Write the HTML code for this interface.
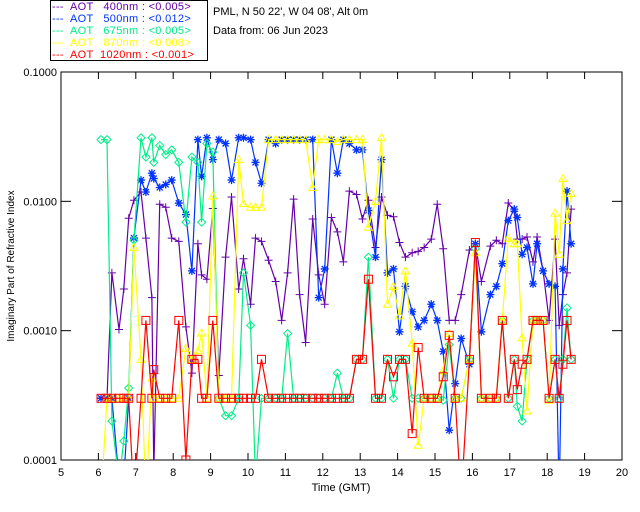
<!DOCTYPE html>
<html><head><meta charset="utf-8"><style>
html,body{margin:0;padding:0;background:#fff;width:640px;height:512px;overflow:hidden}
svg{display:block;font-family:"Liberation Sans",sans-serif}
.leg text{white-space:pre}
</style></head><body>
<svg id="chart" width="640" height="512" viewBox="0 0 640 512">
<defs><clipPath id="pc"><rect x="61" y="72" width="561" height="388"/></clipPath></defs>
<g class="leg">
<rect x="50.5" y="0.5" width="157" height="60" fill="#fff" stroke="#000"/>
<g font-size="11" letter-spacing="0.3">
<text x="52" y="10" fill="#6600aa" xml:space="preserve">---  AOT   400nm : &lt;0.005&gt;</text>
<text x="52" y="22" fill="#0033ff" xml:space="preserve">---  AOT   500nm : &lt;0.012&gt;</text>
<text x="52" y="34" fill="#00ee88" xml:space="preserve">---  AOT   675nm : &lt;0.005&gt;</text>
<text x="52" y="46" fill="#ffff00" xml:space="preserve">---  AOT   870nm : &lt;0.008&gt;</text>
<text x="52" y="58" fill="#ff0000" xml:space="preserve">---  AOT  1020nm : &lt;0.001&gt;</text>
</g></g>
<text x="213" y="15" font-size="11">PML, N 50 22', W 04 08', Alt 0m</text>
<text x="213" y="34" font-size="11">Data from: 06 Jun 2023</text>
<rect x="61" y="72" width="561" height="388" fill="none" stroke="#000"/>
<g id="axes"></g>
<g id="series" clip-path="url(#pc)"></g>
<text x="341" y="491" font-size="11" text-anchor="middle">Time (GMT)</text>
<text transform="translate(14,266) rotate(-90)" font-size="10" text-anchor="middle">Imaginary Part of Refractive Index</text>
</svg>
<script>
const times=[6.07,6.23,6.36,6.55,6.68,6.81,6.95,7.14,7.27,7.43,7.48,7.64,7.80,7.96,8.15,8.34,8.50,8.66,8.76,8.90,9.06,9.22,9.40,9.56,9.75,9.88,10.07,10.20,10.36,10.55,10.74,10.90,11.06,11.22,11.38,11.54,11.73,11.89,12.05,12.23,12.39,12.55,12.71,12.90,13.06,13.22,13.41,13.57,13.73,13.89,14.05,14.21,14.39,14.55,14.71,14.90,15.06,15.22,15.38,15.54,15.70,15.92,16.08,16.24,16.48,16.64,16.80,16.96,17.12,17.20,17.33,17.46,17.62,17.73,17.89,18.05,18.21,18.32,18.42,18.53,18.64];
const aot400=[.0003,.0003,.0028,.00102,.0021,.0074,.0102,.0118,.0052,.0018,.00008,.0095,.009,.0052,.0049,.00107,.00047,.0047,.0027,.0025,.0088,.00045,.0037,.0108,.0021,.0036,.0016,.0052,.0049,.0035,.0024,.0012,.0028,.0104,.0019,.00081,.0073,.0027,.0016,.0075,.0058,.0034,.012,.0113,.0073,.0102,.0044,.0108,.0078,.0076,.0048,.0037,.004,.0041,.0044,.0051,.0095,.0043,.0012,.0012,.0019,.0042,.0047,.0024,.0045,.005,.0047,.0097,.0084,.0051,.0051,.0053,.0034,.0053,.0029,.0012,.0051,.0011,.0019,.0028,.0087];
const aot500=[.0003,.0003,.0003,.00007,.00007,.0003,.0052,.0146,.0118,.0165,.015,.0128,.0135,.0146,.0097,.0079,.0029,.03,.0156,.031,.021,.03,.028,.0146,.031,.031,.03,.02,.0138,.03,.028,.03,.03,.03,.03,.03,.03,.0018,.003,.03,.0165,.03,.028,.025,.025,.0085,.0037,.021,.0028,.003,.00098,.0022,.0014,.00107,.0012,.0016,.0012,.00069,.00017,.00039,.00087,.00055,.0047,.00098,.0019,.0022,.0033,.0071,.0087,.0075,.0039,.0044,.0023,.0047,.0029,.0023,.0022,.00005,.003,.012,.0047];
const aot675=[.03,.03,.0002,.00007,.00014,.00036,.005,.031,.022,.031,.02,.027,.023,.025,.02,.0069,.022,.02,.0069,.028,.024,.0003,.00022,.00022,.0003,.0028,.0011,.00007,.0003,.0003,.0003,.0003,.00095,.0003,.0003,.0003,.0003,.0003,.0003,.0003,.00047,.0003,.0003,.0006,.0006,.0037,.0003,.0003,.0006,.0003,.0006,.0006,.0003,.0003,.0003,.0003,.0003,.00029,.00078,.0003,.0003,.0006,.0043,.0003,.0003,.0003,.0012,.0003,.0006,.00026,.0002,.0006,.0012,.0012,.0012,.0003,.0006,.0003,.0006,.0015,.0006];
const aot870=[.00005,.0003,.0003,.0003,.0003,.0003,.0044,.0006,.00005,.00043,.0003,.0003,.0003,.0003,.0003,.00073,.0006,.0007,.00096,.0003,.011,.0003,.0003,.0003,.021,.0096,.009,.009,.009,.03,.03,.03,.03,.03,.03,.03,.0128,.03,.03,.03,.029,.03,.03,.03,.03,.0063,.01,.031,.0016,.0022,.0013,.0029,.0008,.00013,.0003,.0003,.0003,.00049,.00095,.0003,.0003,.0006,.004,.0003,.0003,.0003,.0012,.0052,.0047,.0047,.00088,.00024,.0012,.0012,.0012,.00029,.0081,.0039,.015,.0071,.0115];
const aot1020=[.0003,.0003,.0003,.0003,.0003,.0003,.00005,.0003,.0012,.0003,.0005,.0003,.0003,.0003,.0012,.0001,.0006,.0006,.0003,.0003,.0012,.0003,.0003,.0003,.0003,.0003,.0003,.0003,.0006,.0003,.0003,.0003,.0003,.0003,.0003,.0003,.0003,.0003,.0003,.0003,.0003,.0003,.0003,.0006,.0006,.0025,.0003,.0003,.0006,.00044,.0006,.0006,.00016,.00074,.0003,.0003,.0003,.00044,.00092,.0003,.00005,.0006,.0048,.0003,.0003,.0003,.0012,.0003,.0006,.00035,.00055,.0006,.0012,.0012,.0012,.0003,.0006,.0003,.00055,.0012,.0006];
const xTicks=[5,6,7,8,9,10,11,12,13,14,15,16,17,18,19,20];
const yTicks=[0.1,0.01,0.001,0.0001];
const yTickLabels=["0.1000","0.0100","0.0010","0.0001"];

const NS="http://www.w3.org/2000/svg";
const X0=61,X1=622,Y0=72,Y1=460;
function xs(t){return X0+(t-5)/15*(X1-X0);}
function ys(v){return Y0+(-1-Math.log10(v))/3*(Y1-Y0);}
function mk(tag,attrs,parent){const e=document.createElementNS(NS,tag);for(const k in attrs)e.setAttribute(k,attrs[k]);parent.appendChild(e);return e;}
const axes=document.getElementById('axes');
xTicks.forEach(t=>{
  const x=xs(t);
  let l=mk('line',{x1:x,x2:x,y1:Y1,y2:Y1-7,stroke:'#000'},axes);
  
  
  let l2=mk('line',{x1:x,x2:x,y1:Y0,y2:Y0+7,stroke:'#000'},axes);
  
  
  const tx=mk('text',{x:x,y:Y1+16,'font-size':11,'text-anchor':'middle'},axes);
  tx.textContent=String(t);
  
  
});
yTicks.forEach((v,i)=>{
  const y=ys(v);
  let l=mk('line',{x1:X0,x2:X0+10,y1:y,y2:y,stroke:'#000'},axes);
  
  
  let l2=mk('line',{x1:X1,x2:X1-10,y1:y,y2:y,stroke:'#000'},axes);
  
  
  const tx=mk('text',{x:X0-4,y:y+4,'font-size':11,'text-anchor':'end'},axes);
  tx.textContent=yTickLabels[i];
  
  
});
const g=document.getElementById('series');
function marker(kind,x,y,c,parent){
  const s=4;
  if(kind==='plus'){mk('path',{d:`M${x-s} ${y}H${x+s}M${x} ${y-s}V${y+s}`,stroke:c,fill:'none'},parent);}
  else if(kind==='star'){mk('path',{d:`M${x-s} ${y}H${x+s}M${x} ${y-s}V${y+s}M${x-3} ${y-3}L${x+3} ${y+3}M${x-3} ${y+3}L${x+3} ${y-3}`,stroke:c,fill:'none','stroke-width':1.3},parent);}
  else if(kind==='diamond'){mk('path',{d:`M${x} ${y-s}L${x+s} ${y}L${x} ${y+s}L${x-s} ${y}Z`,stroke:c,fill:'none'},parent);}
  else if(kind==='tri'){mk('path',{d:`M${x} ${y-s}L${x+s} ${y+3}L${x-s} ${y+3}Z`,stroke:c,fill:'none'},parent);}
  else {mk('rect',{x:x-4,y:y-4,width:8,height:8,stroke:c,fill:'none'},parent);}
}
function drawSeries(vals,color,kind,name){
  const sg=mk('g',{},g);
  
  
  const pts=times.map((t,i)=>xs(t).toFixed(1)+','+ys(vals[i]).toFixed(1)).join(' ');
  const pl=mk('polyline',{points:pts,fill:'none',stroke:color,'stroke-width':1.2},sg);
  
  
  times.forEach((t,i)=>marker(kind,xs(t),ys(vals[i]),color,sg));
}
drawSeries(aot400,'#6600aa','plus','series-400nm');
drawSeries(aot500,'#0033ff','star','series-500nm');
drawSeries(aot675,'#00ee88','diamond','series-675nm');
drawSeries(aot870,'#ffff00','tri','series-870nm');
drawSeries(aot1020,'#ff0000','square','series-1020nm');
</script>
</body></html>
